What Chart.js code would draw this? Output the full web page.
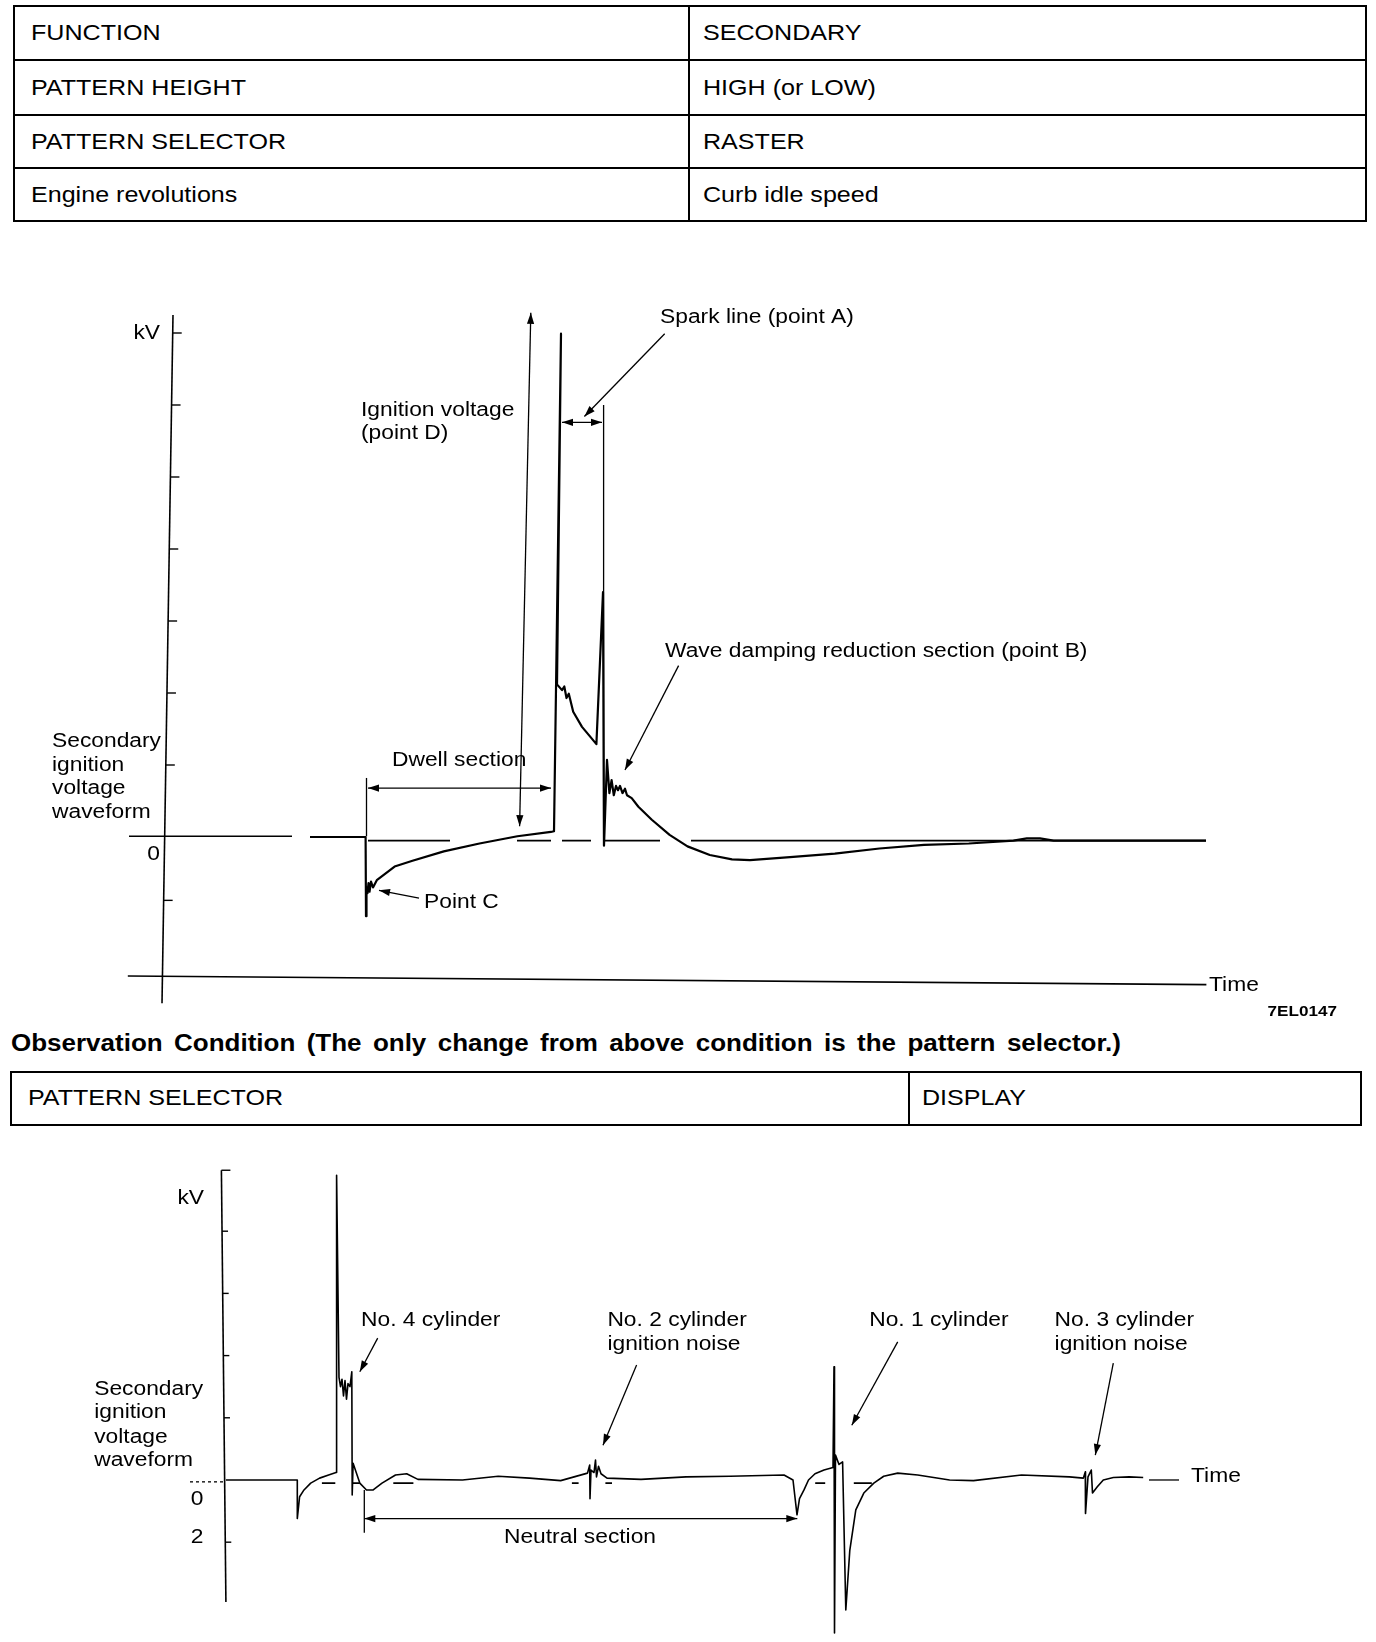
<!DOCTYPE html>
<html>
<head>
<meta charset="utf-8">
<script src="https://cdn.jsdelivr.net/npm/chart.js@4.4.1/dist/chart.umd.min.js"></script>
<style>
html,body{margin:0;padding:0;background:#fff;}
body{width:1376px;height:1642px;overflow:hidden;position:relative;font-family:"Liberation Sans",Arial,Helvetica,sans-serif;color:#000;}
.ln{position:absolute;background:#000;}
.tx{position:absolute;white-space:nowrap;font-size:22px;line-height:26px;transform:scaleX(1.14);transform-origin:0 50%;}
canvas{position:absolute;left:0;}
</style>
</head>
<body>
<div id="tables"></div>
<canvas id="c1" width="1376" height="750" style="top:280px"></canvas>
<canvas id="c2" width="1376" height="512" style="top:1130px"></canvas>
<script>
// ---------------- DATA ----------------
const table1Left  = ['FUNCTION','PATTERN HEIGHT','PATTERN SELECTOR','Engine revolutions'];
const table1Right = ['SECONDARY','HIGH (or LOW)','RASTER','Curb idle speed'];
const table2Left  = ['PATTERN SELECTOR'];
const table2Right = ['DISPLAY'];
const headingText = 'Observation Condition (The only change from above condition is the pattern selector.)';

// Chart 1 : raster pattern (time units, kV units)
const wave1X = [14.2,19.76,19.8,19.85,19.95,20.05,20.15,20.3,20.5,20.88,22.66,24.45,27.58,31.15,34.94,38.29,38.6,39.3,38.9,39.4,39.63,39.85,40.08,40.52,41.4,42.3,42.84,43.5,43.6,43.9,44.14,44.36,44.58,44.8,45.0,45.2,45.45,45.7,45.9,46.37,47.04,48.38,50.16,51.95,54.18,56.4,58.2,62.2,66.68,71.15,75.6,80.08,84.54,85.88,87.2,88.56,95.7,103.8];
const wave1Y = [0,0,-1.1,-0.7,-0.78,-0.64,-0.76,-0.62,-0.7,-0.6,-0.41,-0.33,-0.2,-0.09,0.01,0.07,0.08,6.99,2.12,2.04,2.09,1.93,1.99,1.74,1.53,1.38,1.29,3.4,-0.12,1.07,0.61,0.79,0.58,0.71,0.65,0.71,0.61,0.67,0.58,0.54,0.42,0.24,0.03,-0.13,-0.25,-0.31,-0.32,-0.28,-0.23,-0.16,-0.11,-0.09,-0.05,-0.02,-0.02,-0.05,-0.05,-0.05];
const ref1Start = [-3.9,20.0,34.9,39.4,43.6,52.3];
const ref1End   = [12.4,28.2,38.3,42.3,49.2,103.8];
const ref1Level = [0.01,-0.05,-0.05,-0.05,-0.05,-0.05];
const yTicks1 = [7,6,5,4,3,2,1,-0.88];
const yTickLabels1 = ['kV','0'];
const yTickLabelVals1 = [7,-0.24];

// Chart 2 : display pattern
const wave2X = [0.19,7.33,7.33,7.56,8.0,8.67,9.56,10.46,11.2,11.26,11.5,11.65,11.8,11.95,12.1,12.25,12.4,12.6,12.78,12.82,12.91,13.58,14.25,14.92,15.8,17.15,18.27,19.39,23.85,27.42,30.55,33.67,36.35,36.57,36.6,36.7,37.0,37.15,37.25,37.45,37.7,38.3,41.7,46.2,50.6,56.0,56.9,57.3,57.55,58.0,58.45,59.1,60.0,60.9,61.0,61.05,61.15,61.5,61.86,62.18,62.58,63.18,63.98,64.98,65.97,67.37,69.37,72.56,74.95,79.75,84.54,85.93,86.13,86.15,86.4,86.73,86.85,87.33,87.93,88.93,90.52,91.92];
const wave2Y = [0,0,-0.62,-0.27,-0.16,-0.05,0.03,0.08,0.12,4.9,1.65,1.5,1.62,1.35,1.6,1.3,1.55,1.5,1.74,-0.24,0.27,-0.05,-0.16,-0.16,-0.05,0.08,0.1,0.01,0,0.06,0.03,-0.01,0.11,0.24,-0.3,0.16,0.12,0.32,0.05,0.22,0.1,0.03,0.01,0.05,0.06,0.08,0,-0.56,-0.3,-0.16,0,0.1,0.16,0.2,1.82,-2.46,0.4,0.25,0.29,-2.09,-1.13,-0.48,-0.21,-0.05,0.06,0.11,0.08,0,-0.01,0.08,0.05,0.03,0.13,-0.54,0.05,0.16,-0.21,-0.11,0,0.04,0.05,0.04];
const ref2Start = [9.79,12.9,16.93,34.79,38.14,59.12,62.98];
const ref2End   = [11.13,13.58,18.94,35.46,38.8,60.12,64.78];
const ref2Level = [-0.05,-0.05,-0.05,-0.05,-0.05,-0.05,-0.05];
const yTicks2 = [4,3,2,1,-1];
const yTickLabels2 = ['kV','0','2'];
const yTickLabelVals2 = [4.53,-0.32,-0.93];

// ---------------- TABLES (HTML) ----------------
const host = document.getElementById('tables');
function hline(x1,x2,y,t){const d=document.createElement('div');d.className='ln';d.style.cssText=`left:${x1}px;top:${y-t/2}px;width:${x2-x1}px;height:${t}px`;host.appendChild(d);}
function vline(x,y1,y2,t){const d=document.createElement('div');d.className='ln';d.style.cssText=`left:${x-t/2}px;top:${y1}px;width:${t}px;height:${y2-y1}px`;host.appendChild(d);}
function htext(s,x,yc,extra){const d=document.createElement('div');d.className='tx';d.textContent=s;d.style.left=x+'px';d.style.top=(yc-13)+'px';if(extra)Object.assign(d.style,extra);host.appendChild(d);return d;}
function buildTable(left,right,x1,x2,xd,ys,tx1,tx2){
  ys.forEach(y=>hline(x1,x2,y,2));
  vline(x1,ys[0]-1,ys[ys.length-1]+1,2);vline(x2,ys[0]-1,ys[ys.length-1]+1,2);vline(xd,ys[0],ys[ys.length-1],1.5);
  left.forEach((s,i)=>{const yc=(ys[i]+ys[i+1])/2;htext(s,tx1,yc);htext(right[i],tx2,yc);});
}
buildTable(table1Left,table1Right,14,1366,689,[6,60,115,168,221],31,703);
buildTable(table2Left,table2Right,10.5,1361,909,[1071.5,1124.5],28,922);
(function(){
  const c=document.createElement('canvas').getContext('2d');
  c.font='bold 23px "Liberation Sans", Arial, sans-serif';
  const w=c.measureText(headingText).width, sc=1.13, target=1110;
  const n=headingText.split(' ').length-1;
  const ws=(target/sc-w)/n;
  htext(headingText,11,1043,{fontWeight:'bold',fontSize:'23px',transform:'scaleX('+sc+')',wordSpacing:ws+'px'});
})();

// ---------------- CHART HELPERS ----------------
function pts(xs,ys){return xs.map((x,i)=>({x:x,y:ys[i]}));}
function segs(s,e,l){const out=[];s.forEach((x,i)=>{out.push({x:x,y:l[i]},{x:e[i],y:l[i]},{x:e[i],y:null});});return out;}

function head(ctx,x1,y1,x2,y2){
  const a=Math.atan2(y2-y1,x2-x1),L=11,W=3.6;
  ctx.beginPath();ctx.moveTo(x2,y2);
  ctx.lineTo(x2-L*Math.cos(a)+W*Math.sin(a),y2-L*Math.sin(a)-W*Math.cos(a));
  ctx.lineTo(x2-L*Math.cos(a)-W*Math.sin(a),y2-L*Math.sin(a)+W*Math.cos(a));
  ctx.closePath();ctx.fill();
}
function makeDeco(cfg){
  return {id:'deco',afterDatasetsDraw(chart){
    const ctx=chart.ctx,xs=chart.scales.x,ys=chart.scales.y;
    const P=(p)=>[xs.getPixelForValue(p[0]),ys.getPixelForValue(p[1])];
    ctx.save();ctx.strokeStyle='#000';ctx.fillStyle='#000';
    // axis
    const a0=P(cfg.axisTop),a1=P(cfg.axisBottom);
    ctx.lineWidth=1.6;ctx.beginPath();ctx.moveTo(a0[0],a0[1]);ctx.lineTo(a1[0],a1[1]);ctx.stroke();
    const axX=(py)=>a0[0]+(a1[0]-a0[0])*(py-a0[1])/(a1[1]-a0[1]);
    ctx.lineWidth=1.4;
    cfg.ticks.forEach(v=>{const py=ys.getPixelForValue(v),px=axX(py);ctx.beginPath();ctx.moveTo(px,py);ctx.lineTo(px+cfg.tickLen,py);ctx.stroke();});
    if(cfg.hook){ctx.beginPath();ctx.moveTo(a0[0],a0[1]);ctx.lineTo(a0[0]+9,a0[1]);ctx.stroke();}
    // lines
    (cfg.lines||[]).forEach(l=>{const p=P(l.a),q=P(l.b);ctx.lineWidth=l.w||1.3;ctx.setLineDash(l.dash||[]);ctx.beginPath();ctx.moveTo(p[0],p[1]);ctx.lineTo(q[0],q[1]);ctx.stroke();});
    ctx.setLineDash([]);
    // arrows
    (cfg.arrows||[]).forEach(l=>{const p=P(l.a),q=P(l.b);ctx.lineWidth=1.3;ctx.beginPath();ctx.moveTo(p[0],p[1]);ctx.lineTo(q[0],q[1]);ctx.stroke();head(ctx,p[0],p[1],q[0],q[1]);if(l.both)head(ctx,q[0],q[1],p[0],p[1]);});
    // texts
    (cfg.texts||[]).forEach(t=>{const p=P([t.x,t.y]);ctx.save();ctx.translate(p[0],p[1]);ctx.scale(1.14,1);
      ctx.font=(t.bold?'bold ':'')+(t.size||20)+'px "Liberation Sans", Arial, sans-serif';
      ctx.textAlign=t.align||'left';ctx.textBaseline='middle';ctx.fillText(t.s,0,0);ctx.restore();});
    ctx.restore();
  }};
}
function makeChart(id,wave,ref,waveW,sc,pad,deco){
  return new Chart(document.getElementById(id),{
    type:'scatter',
    data:{datasets:[
      {data:ref,showLine:true,borderColor:'#000',borderWidth:1.6,pointRadius:0,spanGaps:false,clip:false},
      {data:wave,showLine:true,borderColor:'#000',borderWidth:waveW,pointRadius:0,borderJoinStyle:'round',clip:false}
    ]},
    options:{responsive:false,animation:false,devicePixelRatio:1,events:[],
      layout:{padding:pad},
      plugins:{legend:{display:false},tooltip:{enabled:false},title:{display:false}},
      scales:{x:{type:'linear',display:false,min:sc[0],max:sc[1]},y:{type:'linear',display:false,min:sc[2],max:sc[3]}}},
    plugins:[makeDeco(deco)]
  });
}
function tickTexts(labels,vals,x,align){return labels.map((s,i)=>({s:s,x:x,y:vals[i],align:align}));}

// ---------------- CHART 1 ----------------
makeChart('c1',pts(wave1X,wave1Y),segs(ref1Start,ref1End,ref1Level),2.2,[-5,110,-2.5,7.5],
 {left:118,right:108,top:17,bottom:13},
 {axisTop:[0.5,7.25],axisBottom:[-0.6,-2.31],ticks:yTicks1,tickLen:9,
  lines:[{a:[-4.02,-1.93],b:[103.84,-2.05],w:1.6},{a:[43.56,6.0],b:[43.56,-0.12]},{a:[19.85,0.82],b:[19.85,0.01]}],
  arrows:[{a:[35.16,0.15],b:[36.28,7.28],both:true},{a:[39.4,5.76],b:[43.4,5.76],both:true},{a:[49.67,6.99],b:[41.64,5.84]},
          {a:[20.0,0.68],b:[38.3,0.68],both:true},{a:[25.1,-0.85],b:[21.1,-0.74]},{a:[51.06,2.38],b:[45.7,0.93]}],
  texts:tickTexts(yTickLabels1,yTickLabelVals1,-0.8,'right').concat([
   {s:'Spark line (point A)',x:49.2,y:7.21},{s:'Ignition voltage',x:19.3,y:5.93},{s:'(point D)',x:19.3,y:5.61},
   {s:'Wave damping reduction section (point B)',x:49.7,y:2.57},{s:'Dwell section',x:22.4,y:1.06},
   {s:'Secondary',x:-11.6,y:1.33},{s:'ignition',x:-11.6,y:0.99},{s:'voltage',x:-11.6,y:0.67},{s:'waveform',x:-11.6,y:0.34},
   {s:'Point C',x:25.6,y:-0.91},{s:'Time',x:104.1,y:-2.06},{s:'7EL0147',x:116.9,y:-2.43,align:'right',bold:true,size:15}])});

// ---------------- CHART 2 ----------------
makeChart('c2',pts(wave2X,wave2Y),segs(ref2Start,ref2End,ref2Level),1.6,[-20,110,-2.6,5.5],
 {left:24,right:52,top:7.9,bottom:0.3},
 {axisTop:[-0.26,4.98],axisBottom:[0.19,-1.96],ticks:yTicks2,tickLen:6,hook:true,
  lines:[{a:[92.5,0],b:[95.5,0]},{a:[-3.4,-0.03],b:[-0.04,-0.03],dash:[3,3]},{a:[14.03,-0.16],b:[14.03,-0.85]}],
  arrows:[{a:[15.37,2.28],b:[13.58,1.74]},{a:[41.26,1.85],b:[37.9,0.56]},{a:[67.37,2.22],b:[62.78,0.88]},{a:[88.93,1.88],b:[87.13,0.4]},
          {a:[14.03,-0.62],b:[57.33,-0.62],both:true}],
  texts:[{s:'kV',x:-2.0,y:yTickLabelVals2[0],align:'right'},{s:yTickLabels2[1],x:-2.7,y:yTickLabelVals2[1],align:'center'},{s:yTickLabels2[2],x:-2.7,y:yTickLabelVals2[2],align:'center'},
   {s:'Secondary',x:-12.98,y:1.45},{s:'ignition',x:-12.98,y:1.08},{s:'voltage',x:-12.98,y:0.69},{s:'waveform',x:-12.98,y:0.32},
   {s:'No. 4 cylinder',x:13.7,y:2.56},{s:'No. 2 cylinder',x:38.34,y:2.56},{s:'ignition noise',x:38.34,y:2.18},
   {s:'No. 1 cylinder',x:64.52,y:2.56},{s:'No. 3 cylinder',x:83.06,y:2.56},{s:'ignition noise',x:83.06,y:2.18},
   {s:'Neutral section',x:35.6,y:-0.92,align:'center'},{s:'Time',x:96.7,y:0.06}]});
</script>
</body>
</html>
